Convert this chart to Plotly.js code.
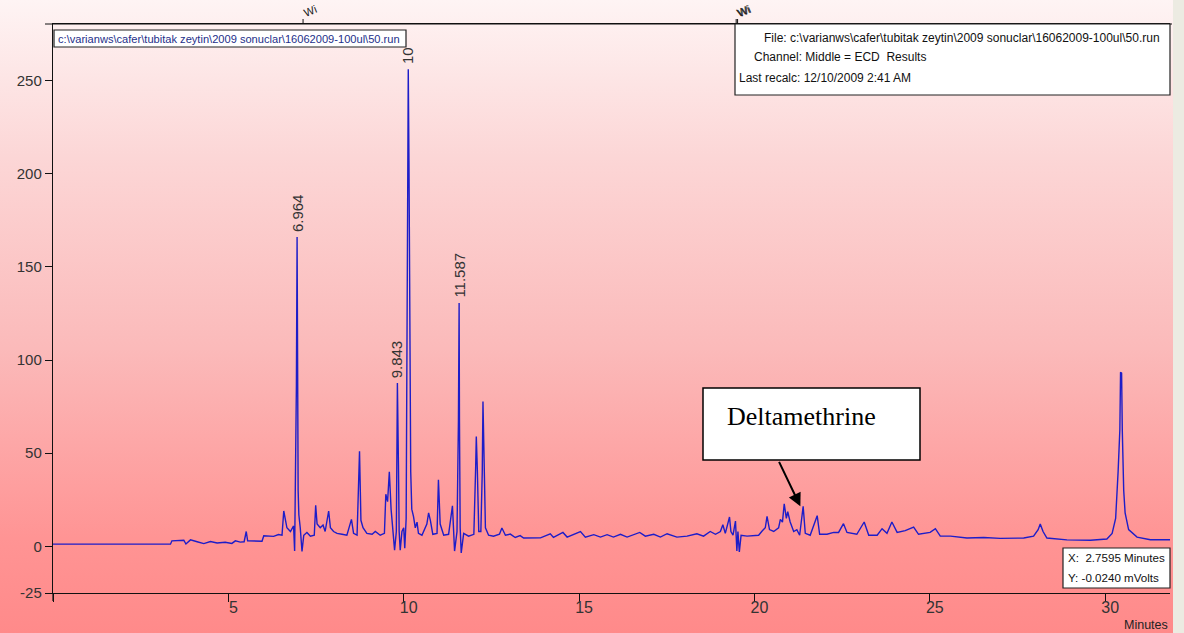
<!DOCTYPE html>
<html>
<head>
<meta charset="utf-8">
<script src="https://cdn.plot.ly/plotly-3.0.1.min.js"></script>
<style>
  html, body { margin: 0; padding: 0; }
  body { width: 1184px; height: 633px; overflow: hidden; position: relative;
         background: linear-gradient(to bottom, #fef4f4 0%, #fcd6d6 25%, #fbbaba 55%, #ff9494 85%, #ff8a8a 100%); }
  #chart { width: 1184px; height: 633px; position: absolute; left: 0; top: 0; }
  #strip { position: absolute; left: 1173px; top: 0; width: 11px; height: 633px; background: #ecebe2; }
</style>
</head>
<body>
<div id="chart"></div>
<div id="strip"></div>
<script>
// ---- data (retention time in minutes, detector signal in mV) ----
const timeMin = [
  0, 3.35, 3.39, 3.73, 3.79, 3.92, 4.11, 4.30, 4.49, 4.68, 4.91, 5.10, 5.20, 5.34, 5.45, 5.51, 5.55,
  5.96, 6.01, 6.29, 6.43, 6.53, 6.58, 6.67, 6.77, 6.86, 6.89, 6.94, 6.96, 6.97, 6.99, 7.01, 7.05,
  7.10, 7.15, 7.24, 7.34, 7.45, 7.49, 7.53, 7.62, 7.70, 7.76, 7.86, 7.91, 8.00, 8.10, 8.24, 8.38,
  8.51, 8.57, 8.67, 8.74, 8.78, 8.84, 8.95, 9.10, 9.19, 9.33, 9.45, 9.49, 9.54, 9.59, 9.64, 9.69,
  9.74, 9.79, 9.82, 9.85, 9.87, 9.90, 9.95, 10.00, 10.03, 10.07, 10.11, 10.13, 10.15, 10.17, 10.20,
  10.23, 10.28, 10.33, 10.38, 10.42, 10.52, 10.66, 10.71, 10.76, 10.83, 10.95, 10.99, 11.04, 11.14,
  11.28, 11.39, 11.45, 11.52, 11.56, 11.58, 11.59, 11.61, 11.64, 11.71, 11.85, 12.00, 12.05, 12.07,
  12.10, 12.14, 12.20, 12.24, 12.26, 12.29, 12.33, 12.42, 12.56, 12.73, 12.80, 12.90, 13.04, 13.18,
  13.32, 13.42, 13.90, 14.18, 14.27, 14.54, 14.66, 15.04, 15.18, 15.42, 15.61, 15.80, 15.98, 16.18,
  16.37, 16.73, 16.89, 17.13, 17.32, 17.51, 17.79, 18.08, 18.36, 18.55, 18.74, 18.89, 19.03, 19.10,
  19.17, 19.29, 19.33, 19.39, 19.46, 19.50, 19.53, 19.57, 19.62, 19.79, 20.12, 20.22, 20.31, 20.36,
  20.43, 20.55, 20.69, 20.74, 20.80, 20.85, 20.91, 20.95, 21.02, 21.12, 21.21, 21.29, 21.39, 21.45,
  21.59, 21.79, 21.86, 22.07, 22.26, 22.40, 22.54, 22.64, 22.92, 23.13, 23.26, 23.50, 23.64, 23.78,
  23.92, 24.07, 24.30, 24.54, 24.68, 25.01, 25.16, 25.30, 25.59, 26.06, 26.54, 27.01, 27.68, 27.96,
  28.09, 28.15, 28.23, 28.34, 28.91, 29.58, 30.05, 30.20, 30.30, 30.37, 30.42, 30.44, 30.47, 30.49,
  30.53, 30.57, 30.67, 30.91, 31.29, 31.85
];
const signalMv = [
  1.2, 1.2, 3.0, 3.3, 1.3, 3.5, 2.5, 1.5, 2.6, 1.8, 2.2, 1.6, 3.0, 2.3, 2.5, 8.0, 3.0,
  2.8, 5.7, 5.4, 6.4, 6.0, 19.0, 10.0, 8.0, 11.0, -2.5, 86, 166, 84, 30, 17, 10,
  -2.7, 6.0, 7.5, 5.5, 6.0, 22.0, 12.0, 10.0, 11.5, 8.0, 19.0, 10.0, 8.0, 7.0, 6.5, 6.0,
  14.5, 7.0, 6.0, 51.0, 14.0, 10.0, 7.0, 6.5, 8.0, 6.0, 7.0, 28.0, 24.0, 40.0, 20.0, 8.0,
  -2.0, 8.0, 87.7, 44.0, 8.0, -2.0, 8.0, 10.0, -1.0, 15.0, 207, 256, 207, 136, 40.0,
  20.0, 16.0, 10.0, 13.0, 7.0, 6.0, 12.0, 18.0, 14.0, 6.5, 7.0, 35.8, 12.0, 6.0,
  6.5, 21.8, -2.5, 8.0, 67.0, 130.6, 67.0, 10.0, -3.5, 7.0, 5.5, 6.5, 41.0, 59.0,
  41.0, 8.0, 8.0, 40.0, 77.8, 40.0, 10.0, 6.0, 5.5, 6.5, 9.9, 6.0, 6.6, 4.8,
  5.8, 4.5, 4.6, 6.8, 4.8, 7.5, 5.0, 8.0, 5.0, 6.3, 5.0, 6.3, 5.0, 6.5,
  5.0, 7.5, 5.5, 6.5, 5.0, 6.8, 5.0, 5.5, 6.8, 5.5, 8.0, 6.5, 8.0, 11.6,
  7.0, 15.8, 8.0, 6.0, 13.6, -2.5, 8.0, -3.0, 6.0, 5.5, 6.0, 8.3, 10.0, 16.1,
  9.0, 8.0, 10.0, 14.5, 13.0, 22.9, 15.0, 18.6, 13.1, 8.0, 9.0, 6.0, 21.5, 7.0,
  6.0, 16.5, 6.5, 6.5, 7.5, 7.5, 12.2, 7.5, 6.5, 13.1, 6.0, 6.0, 9.5, 7.0,
  13.1, 7.5, 8.5, 10.4, 6.5, 7.5, 9.5, 5.5, 5.5, 4.5, 4.8, 4.3, 4.5, 5.5,
  9.0, 12.0, 8.0, 4.5, 3.5, 3.3, 4.0, 7.0, 15.0, 40.0, 62.6, 93.4, 93.0, 62.0,
  30.0, 18.0, 9.0, 5.0, 3.6, 3.6
];

// labelled peaks (apex time, apex signal, label)
const peakTimes  = [6.96, 9.82, 10.13, 11.58];
const peakValues = [166, 87.7, 256, 130.6];
const peakText   = ['6.964', '9.843', '10', '11.587'];

// integration events on the top edge
const eventTimes  = [7.13, 19.48, 19.52];
const eventLabels = ['Wi', 'Wi', 'Wi'];

// axis ticks
const xTickVals = [0, 5, 10, 15, 20, 25, 30];
const xTickText = ['', '5', '10', '15', '20', '25', '30'];
const yTickVals = [-25, 0, 50, 100, 150, 200, 250];
const yTickText = ['-25', '0', '50', '100', '150', '200', '250'];

// header / status texts
const fileText = 'c:\\varianws\\cafer\\tubitak zeytin\\2009 sonuclar\\16062009-100ul\\50.run';
const infoLines = [
  'File: c:\\varianws\\cafer\\tubitak zeytin\\2009 sonuclar\\16062009-100ul\\50.run',
  'Channel: Middle = ECD\u00a0\u00a0Results',
  'Last recalc: 12/10/2009 2:41 AM'
];
const cursorLines = ['X:\u00a0\u00a02.7595 Minutes', 'Y: -0.0240 mVolts'];
const compoundName = 'Deltamethrine';
const compoundTime = 21.31, compoundValue = 21.5;

// ---- layout geometry helpers (pixel -> paper) ----
const W = 1184, H = 633, ML = 53, MR = 14, MT = 24, MB = 40;
const PW = W - ML - MR, PH = H - MT - MB;
const px = x => (x - ML) / PW;
const py = y => (MT + PH - y) / PH;

const sansFont = 'Liberation Sans, Arial, sans-serif';

const shapes = [];
const annotations = [];

// top frame line extension to the left, left axis extension below
shapes.push({type: 'line', xref: 'paper', yref: 'paper', x0: px(45), x1: px(1172), y0: 1, y1: 1,
  line: {color: '#111', width: 1.2}});
shapes.push({type: 'line', xref: 'paper', yref: 'paper', x0: 0, x1: 0, y0: 0, y1: py(601),
  line: {color: '#111', width: 1.2}});

// top-left file path box
shapes.push({type: 'rect', xref: 'paper', yref: 'paper', x0: px(54), x1: px(406), y0: py(47), y1: py(30),
  fillcolor: '#ffffff', line: {color: '#222', width: 1.2}, layer: 'above'});
annotations.push({xref: 'paper', yref: 'paper', x: px(56), y: py(39), xanchor: 'left', yanchor: 'middle',
  text: fileText, showarrow: false, font: {family: sansFont, size: 11.1, color: '#1d2f8a'}});

// top-right info box
shapes.push({type: 'rect', xref: 'paper', yref: 'paper', x0: px(735), x1: px(1170), y0: py(95), y1: py(24),
  fillcolor: '#ffffff', line: {color: '#222', width: 1.2}, layer: 'above'});
const infoX = [762, 752, 737], infoY = [38, 57, 78];
infoLines.forEach((t, i) => annotations.push({xref: 'paper', yref: 'paper', x: px(infoX[i]), y: py(infoY[i]),
  xanchor: 'left', yanchor: 'middle', text: t, showarrow: false, font: {family: sansFont, size: 12, color: '#111'}}));

// bottom-right cursor box
shapes.push({type: 'rect', xref: 'paper', yref: 'paper', x0: px(1063), x1: px(1170), y0: py(588), y1: py(548),
  fillcolor: '#ffffff', line: {color: '#222', width: 1.2}, layer: 'above'});
const curY = [557, 577];
cursorLines.forEach((t, i) => annotations.push({xref: 'paper', yref: 'paper', x: px(1066), y: py(curY[i]),
  xanchor: 'left', yanchor: 'middle', text: t, showarrow: false, font: {family: sansFont, size: 11.6, color: '#111'}}));

// Deltamethrine call-out
shapes.push({type: 'rect', xref: 'paper', yref: 'paper', x0: px(703), x1: px(920), y0: py(460), y1: py(388),
  fillcolor: '#ffffff', line: {color: '#000', width: 1.5}, layer: 'above'});
annotations.push({xref: 'paper', yref: 'paper', x: px(801), y: py(416), xanchor: 'center', yanchor: 'middle',
  text: compoundName, showarrow: false, font: {family: 'Liberation Serif, Times New Roman, serif', size: 26, color: '#000'}});
annotations.push({xref: 'x', yref: 'y', x: compoundTime, y: compoundValue, ax: -22, ay: -46, text: '',
  showarrow: true, arrowhead: 2, arrowsize: 1.3, arrowwidth: 2, arrowcolor: '#000'});

// peak labels
peakTimes.forEach((t, i) => annotations.push({xref: 'x', yref: 'y', x: t, y: peakValues[i], text: peakText[i],
  textangle: -90, xanchor: 'center', yanchor: 'bottom', yshift: 3, showarrow: false,
  font: {family: sansFont, size: 15, color: '#333'}}));

// event marks on the top edge
eventTimes.forEach((t, i) => {
  shapes.push({type: 'line', xref: 'x', yref: 'paper', x0: t, x1: t, y0: 1, y1: 1 + 5 / PH,
    line: {color: '#111', width: 1}});
  annotations.push({xref: 'x', yref: 'paper', x: t, y: 1 + 2 / PH, text: eventLabels[i], textangle: -22,
    xanchor: 'center', yanchor: 'bottom', showarrow: false, xshift: 7,
    font: {family: sansFont, size: 11, color: '#222'}});
});

// axis unit label
annotations.push({xref: 'paper', yref: 'paper', x: px(1170), y: py(634), xanchor: 'right', yanchor: 'bottom',
  text: 'Minutes', showarrow: false, font: {family: sansFont, size: 12.5, color: '#222'}});

const trace = {
  x: timeMin, y: signalMv, type: 'scatter', mode: 'lines',
  line: {color: '#1d1dc8', width: 1.4}, hoverinfo: 'x+y'
};

const layout = {
  width: W, height: H,
  margin: {l: ML, r: MR, t: MT, b: MB, pad: 0},
  paper_bgcolor: 'rgba(0,0,0,0)', plot_bgcolor: 'rgba(0,0,0,0)',
  showlegend: false,
  font: {family: sansFont, color: '#222'},
  xaxis: {range: [0, 31.85], tickvals: xTickVals, ticktext: xTickText, ticks: 'outside', ticklen: 8,
    tickcolor: '#111', showgrid: false, zeroline: false, showline: true, linecolor: '#111', linewidth: 1.2,
    mirror: true, tickfont: {size: 16, color: '#333'}, ticklabelshift: 5, ticklabelstandoff: -8},
  yaxis: {range: [-25, 280.3], tickvals: yTickVals, ticktext: yTickText, ticks: 'outside', ticklen: 7,
    tickcolor: '#111', showgrid: false, zeroline: false, showline: true, linecolor: '#111', linewidth: 1.2,
    tickfont: {size: 15, color: '#333'}},
  shapes: shapes,
  annotations: annotations
};

Plotly.newPlot('chart', [trace], layout, {displayModeBar: false, staticPlot: true});
</script>
</body>
</html>
